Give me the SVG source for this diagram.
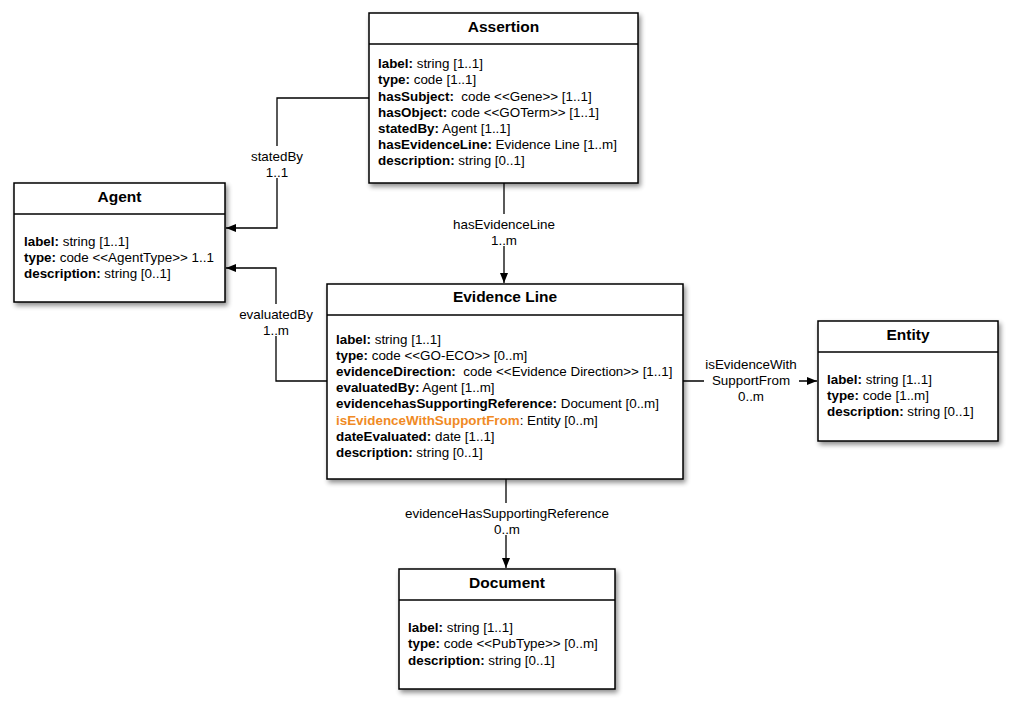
<svg xmlns="http://www.w3.org/2000/svg" width="1016" height="704" viewBox="0 0 1016 704">
<defs>
<filter id="sh" x="-10%" y="-10%" width="130%" height="130%">
<feGaussianBlur in="SourceAlpha" stdDeviation="2.5"/>
<feOffset dx="2" dy="3" result="b"/>
<feComponentTransfer><feFuncA type="linear" slope="0.45"/></feComponentTransfer>
<feMerge><feMergeNode/><feMergeNode in="SourceGraphic"/></feMerge>
</filter>
<marker id="arr" viewBox="0 0 10 10" refX="10" refY="5" markerWidth="10" markerHeight="10" markerUnits="userSpaceOnUse" orient="auto">
<path d="M0,1 L10,5 L0,9 Z" fill="#000"/>
</marker>
</defs>
<style>
.box{fill:#fff;stroke:#000;stroke-width:1.5;}
.div{stroke:#000;stroke-width:1.5;}
.t{font-family:"Liberation Sans",Arial,sans-serif;font-size:15.5px;font-weight:bold;text-anchor:middle;fill:#000;}
.a{font-family:"Liberation Sans",Arial,sans-serif;font-size:13.4px;fill:#000;}
.b{font-weight:bold;}
.o{fill:#f08a24;font-weight:bold;}
.c{fill:none;stroke:#000;stroke-width:1.3;}
.l{font-family:"Liberation Sans",Arial,sans-serif;font-size:13.4px;text-anchor:middle;fill:#000;}
.bg{fill:#fff;}
</style>
<rect width="1016" height="704" fill="#fff"/>
<g id="connectors">
<polyline class="c" points="369,98 277,98 277,228 226,228" marker-end="url(#arr)"/>
<polyline class="c" points="327,381 276,381 276,268 226,268" marker-end="url(#arr)"/>
<line class="c" x1="504" y1="183" x2="504" y2="283" marker-end="url(#arr)"/>
<line class="c" x1="683" y1="381" x2="817" y2="381" marker-end="url(#arr)"/>
<line class="c" x1="506" y1="479" x2="506" y2="568" marker-end="url(#arr)"/>
<rect class="bg" x="246" y="146" width="62" height="32"/>
<text class="l" x="277" y="161">statedBy</text>
<text class="l" x="277" y="177">1..1</text>
<rect class="bg" x="232" y="304" width="88" height="32"/>
<text class="l" x="276" y="319">evaluatedBy</text>
<text class="l" x="276" y="335">1..m</text>
<rect class="bg" x="448" y="214" width="112" height="32"/>
<text class="l" x="504" y="229">hasEvidenceLine</text>
<text class="l" x="504" y="245">1..m</text>
<rect class="bg" x="704" y="353" width="95" height="50"/>
<text class="l" x="751" y="369">isEvidenceWith</text>
<text class="l" x="751" y="385">SupportFrom</text>
<text class="l" x="751" y="401">0..m</text>
<rect class="bg" x="400" y="503" width="214" height="32"/>
<text class="l" x="507" y="518">evidenceHasSupportingReference</text>
<text class="l" x="507" y="534">0..m</text>
</g>
<g id="assertion">
<rect class="box" x="369" y="13" width="269" height="170" filter="url(#sh)"/>
<line class="div" x1="369" y1="44" x2="638" y2="44"/>
<text class="t" x="503.5" y="32">Assertion</text>
<text class="a" x="378" y="68"><tspan class="b">label:</tspan> string [1..1]</text>
<text class="a" x="378" y="84"><tspan class="b">type:</tspan> code [1..1]</text>
<text class="a" x="378" y="101"><tspan class="b">hasSubject:</tspan> &#160;code &lt;&lt;Gene&gt;&gt; [1..1]</text>
<text class="a" x="378" y="117"><tspan class="b">hasObject:</tspan> code &lt;&lt;GOTerm&gt;&gt; [1..1]</text>
<text class="a" x="378" y="133"><tspan class="b">statedBy:</tspan> Agent [1..1]</text>
<text class="a" x="378" y="149"><tspan class="b">hasEvidenceLine:</tspan> Evidence Line [1..m]</text>
<text class="a" x="378" y="165"><tspan class="b">description:</tspan> string [0..1]</text>
</g>
<g id="agent">
<rect class="box" x="14" y="183" width="211" height="119" filter="url(#sh)"/>
<line class="div" x1="14" y1="214" x2="225" y2="214"/>
<text class="t" x="119.5" y="202">Agent</text>
<text class="a" x="24" y="246"><tspan class="b">label:</tspan> string [1..1]</text>
<text class="a" x="24" y="262"><tspan class="b">type:</tspan> code &lt;&lt;AgentType&gt;&gt; 1..1</text>
<text class="a" x="24" y="278"><tspan class="b">description:</tspan> string [0..1]</text>
</g>
<g id="evidence-line">
<rect class="box" x="327" y="284" width="356" height="195" filter="url(#sh)"/>
<line class="div" x1="327" y1="315" x2="683" y2="315"/>
<text class="t" x="505" y="302">Evidence Line</text>
<text class="a" x="336" y="344"><tspan class="b">label:</tspan> string [1..1]</text>
<text class="a" x="336" y="360"><tspan class="b">type:</tspan> code &lt;&lt;GO-ECO&gt;&gt; [0..m]</text>
<text class="a" x="336" y="376"><tspan class="b">evidenceDirection:</tspan> &#160;code &lt;&lt;Evidence Direction&gt;&gt; [1..1]</text>
<text class="a" x="336" y="392"><tspan class="b">evaluatedBy:</tspan> Agent [1..m]</text>
<text class="a" x="336" y="408"><tspan class="b">evidencehasSupportingReference:</tspan> Document [0..m]</text>
<text class="a" x="336" y="425"><tspan class="o">isEvidenceWithSupportFrom</tspan>: Entity [0..m]</text>
<text class="a" x="336" y="441"><tspan class="b">dateEvaluated:</tspan> date [1..1]</text>
<text class="a" x="336" y="457"><tspan class="b">description:</tspan> string [0..1]</text>
</g>
<g id="entity">
<rect class="box" x="818" y="321" width="180" height="120" filter="url(#sh)"/>
<line class="div" x1="818" y1="352" x2="998" y2="352"/>
<text class="t" x="908" y="340">Entity</text>
<text class="a" x="827" y="384"><tspan class="b">label:</tspan> string [1..1]</text>
<text class="a" x="827" y="400"><tspan class="b">type:</tspan> code [1..m]</text>
<text class="a" x="827" y="416"><tspan class="b">description:</tspan> string [0..1]</text>
</g>
<g id="document">
<rect class="box" x="399" y="569" width="216" height="120" filter="url(#sh)"/>
<line class="div" x1="399" y1="600" x2="615" y2="600"/>
<text class="t" x="507" y="588">Document</text>
<text class="a" x="408" y="632"><tspan class="b">label:</tspan> string [1..1]</text>
<text class="a" x="408" y="648"><tspan class="b">type:</tspan> code &lt;&lt;PubType&gt;&gt; [0..m]</text>
<text class="a" x="408" y="665"><tspan class="b">description:</tspan> string [0..1]</text>
</g>
</svg>
